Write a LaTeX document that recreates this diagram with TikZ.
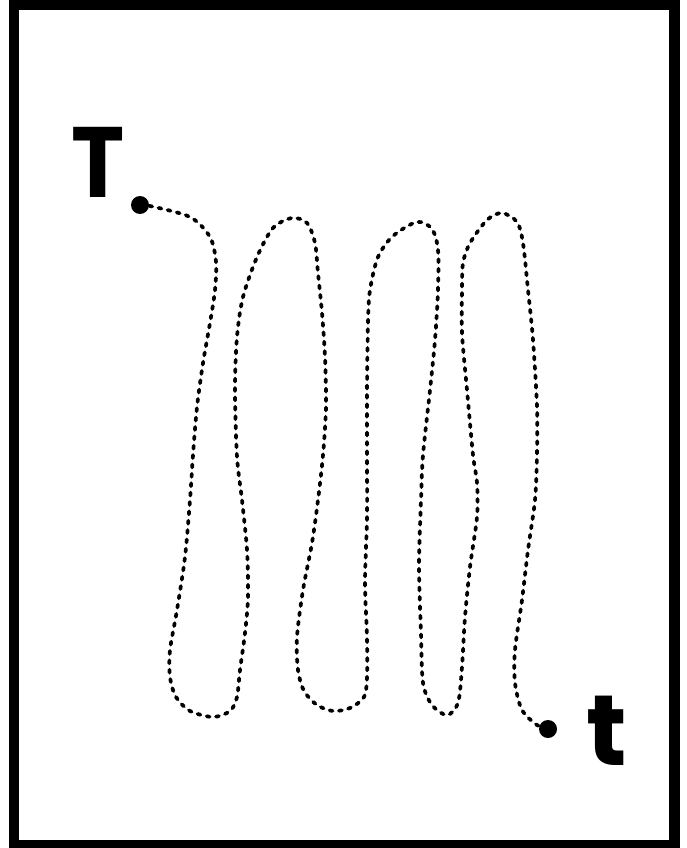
\documentclass[tikz,border=0pt]{standalone}
\usepackage{fontspec}
\usepackage{tikz}
\setmainfont{Poppins}
\tikzset{
  trail/.style={line width=3.7pt, line cap=round, dash pattern=on 3pt off 6.4pt},
  endpoint/.style={circle, fill=black, inner sep=0pt, minimum size=18pt},
  letter/.style={inner sep=0pt, font=\fontsize{100}{100}\selectfont\bfseries}
}

\begin{document}
\begin{tikzpicture}[x=1pt, y=-1pt]
    \useasboundingbox (0,0) rectangle (686,848);
    \draw[line width=10.5pt] (14,5) rectangle (674.5,845);

    % start and end of the walk
    \node[endpoint] (start) at (140,205) {};
    \node[endpoint] (finish) at (548,729) {};
    \node[letter, anchor=base west, xscale=0.9] (bigT) at (71,197) {T};
    \node[letter, anchor=base west] (smallt) at (586,765) {t};

    \draw[trail] plot[smooth] coordinates {
      (start.center) (150,206) (190,217) (210,237) (216,262) (215,290)
      (210,323) (203,363) (197,407) (193,455) (190,500) (185,557)
      (177,610) (170,650) (170,677) (176,697) (190,711) (213,717)
      (230,711) (237,697) (240,670) (245,633) (248,597) (247,550)
      (242,500) (237,457) (235,390) (237,337) (243,297) (257,257)
      (273,228) (292,218) (307,223) (315,243) (318,273) (322,313)
      (325,357) (326,407) (323,455) (318,500) (312,543) (303,590)
      (297,637) (298,670) (304,691) (317,705) (333,711) (350,708)
      (364,697) (367,677) (367,637) (365,583) (367,517) (367,457)
      (367,390) (368,323) (370,290) (378,257) (393,236) (417,222)
      (432,229) (438,250) (438,290) (435,340) (430,390) (423,455)
      (421,500) (419,567) (421,633) (423,683) (432,705) (447,715)
      (458,703) (462,667) (465,617) (470,567) (477,517) (477,483)
      (473,455) (467,390) (462,333) (462,290) (463,263) (470,243)
      (487,220) (502,213) (517,222) (523,243) (528,290) (533,340)
      (537,407) (537,455) (535,500) (528,550) (522,600) (515,650)
      (515,683) (522,710) (537,725) (finish.center)};
\end{tikzpicture}
\end{document}
